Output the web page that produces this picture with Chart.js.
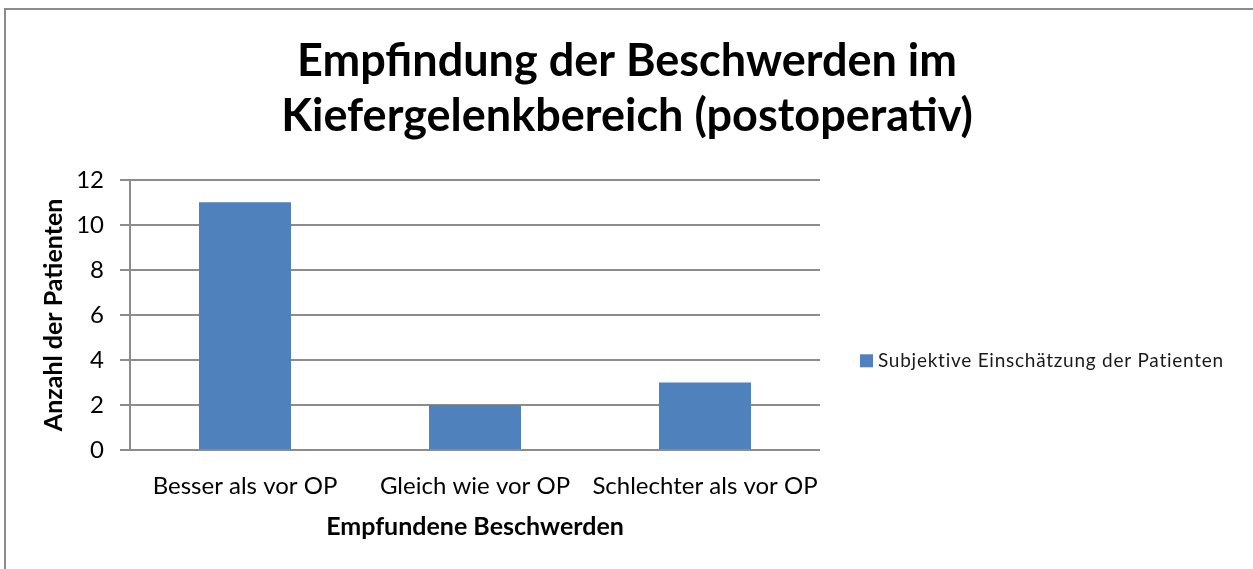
<!DOCTYPE html>
<html>
<head>
<meta charset="utf-8">
<script src="https://cdn.jsdelivr.net/npm/chart.js@4/dist/chart.umd.min.js"></script>
<style>
  html, body { margin: 0; padding: 0; background: #fff; overflow: hidden; }
  #wrap { position: absolute; left: 0; top: 0; width: 1253px; height: 569px; }
  #frame { position: absolute; left: 4px; top: 8px; width: 1270px; height: 580px; border: 2px solid #8c8c8c; box-sizing: border-box; }
  canvas { position: absolute; left: 0; top: 0; }
</style>
</head>
<body>
<div id="wrap">
  <div id="frame"></div>
  <canvas id="c" width="1253" height="569"></canvas>
</div>
<script>
const titleLines = ["Empfindung der Beschwerden im", "Kiefergelenkbereich (postoperativ)"];
const categories = ["Besser als vor OP", "Gleich wie vor OP", "Schlechter als vor OP"];
const seriesName = "Subjektive Einschätzung der Patienten";
const values = [11, 2, 3];
const yTicks = [0, 2, 4, 6, 8, 10, 12];
const xAxisTitle = "Empfundene Beschwerden";
const yAxisTitle = "Anzahl der Patienten";

const FONT = "Lato, 'Open Sans', sans-serif";

// simple legend drawn to the right of the plot area
const sideLegend = {
  id: 'sideLegend',
  afterDraw(chart) {
    const ctx = chart.ctx;
    const ds = chart.data.datasets[0];
    const a = chart.chartArea;
    const x = a.right + 40;
    const y = a.top + 181;
    ctx.save();
    ctx.fillStyle = ds.backgroundColor;
    ctx.fillRect(x, y - 6.5, 13, 13);
    ctx.fillStyle = '#1a1a1a';
    ctx.font = "19px " + FONT;
    if ('letterSpacing' in ctx) ctx.letterSpacing = '0.75px';
    ctx.textBaseline = 'middle';
    ctx.textAlign = 'left';
    ctx.fillText(ds.label, x + 18, y);
    ctx.restore();
  }
};

new Chart(document.getElementById('c'), {
  type: 'bar',
  data: {
    labels: categories,
    datasets: [{
      label: seriesName,
      data: values,
      backgroundColor: '#4F81BD',
      borderWidth: 0,
      barPercentage: 0.4,
      categoryPercentage: 1.0
    }]
  },
  options: {
    responsive: false,
    animation: false,
    devicePixelRatio: 1,
    layout: { padding: { left: 20, right: 19, top: 0, bottom: 27 } },
    plugins: {
      title: {
        display: true,
        text: titleLines,
        color: '#000',
        font: { family: FONT, size: 45, weight: 'bold', lineHeight: 1.22 },
        padding: { top: 34, bottom: 36 }
      },
      legend: { display: false },
      tooltip: { enabled: false }
    },
    scales: {
      x: {
        grid: { display: false, drawTicks: false },
        border: { display: false },
        ticks: { color: '#000', font: { family: FONT, size: 24 }, padding: 22, maxRotation: 0, autoSkip: false },
        title: { display: true, text: xAxisTitle, color: '#000', font: { family: FONT, size: 25, weight: 'bold' }, padding: { top: 0, bottom: 0 } },
        afterFit: (axis) => { axis.height = 92; }
      },
      y: {
        min: 0, max: 12,
        afterBuildTicks: (axis) => { axis.ticks = yTicks.map(v => ({ value: v })); },
        grid: { color: '#8c8c8c', lineWidth: 2, tickLength: 10, drawTicks: true },
        border: { display: true, color: '#8c8c8c', width: 2 },
        ticks: { color: '#000', font: { family: FONT, size: 24 }, padding: 16 },
        title: { display: true, text: yAxisTitle, color: '#000', font: { family: FONT, size: 25, weight: 'bold' }, padding: { top: 19, bottom: 0 } },
        afterFit: (axis) => { axis.width = 110; }
      },
      yR: {
        type: 'linear',
        position: 'right',
        display: true,
        grid: { display: false, drawTicks: false },
        border: { display: false },
        ticks: { display: false },
        afterFit: (axis) => { axis.width = 414; }
      }
    }
  },
  plugins: [sideLegend]
});
</script>
</body>
</html>
